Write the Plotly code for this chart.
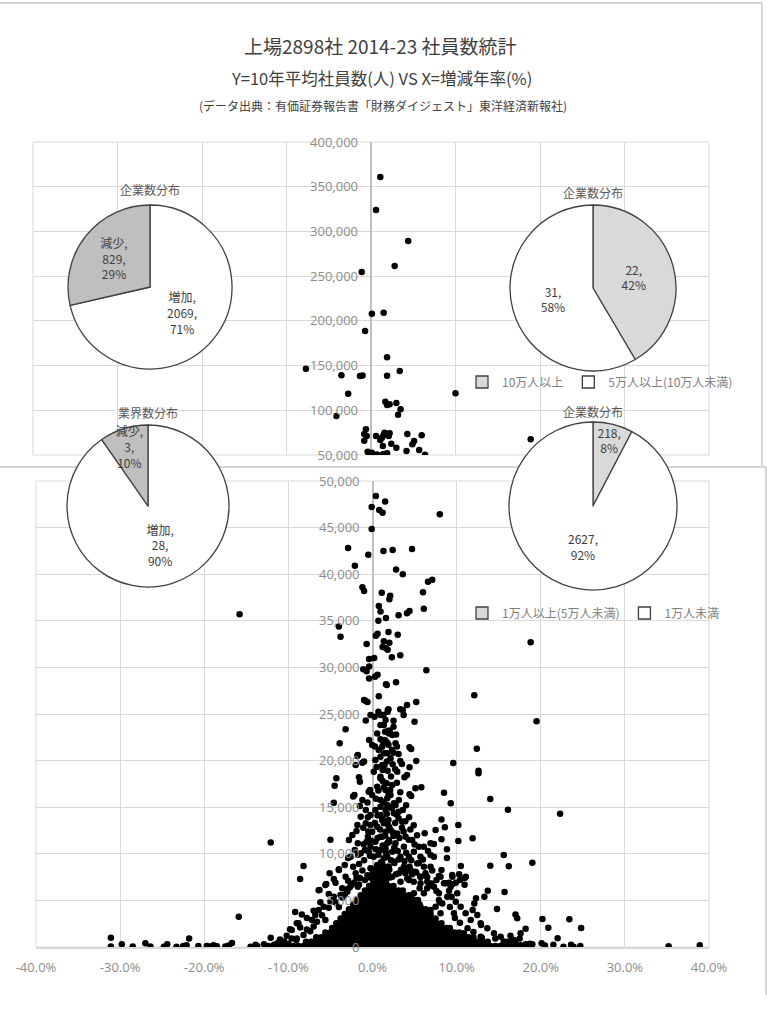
import plotly.graph_objects as go

W, H = 767, 1024

# ---------------- data ----------------
x_tick_vals = [-40, -30, -20, -10, 0, 10, 20, 30, 40]
x_tick_text = ["-40.0%", "-30.0%", "-20.0%", "-10.0%", "0.0%", "10.0%", "20.0%", "30.0%", "40.0%"]

# companies with 50,000+ employees (x = growth %/yr, y = 10y avg employees)
upper_pts = [
    (1.1, 361000), (0.6, 324000), (4.4, 289400), (2.8, 261400), (-1.1, 254700), (0.1, 208000),
    (1.5, 209200), (-0.7, 188700), (1.9, 159300), (3.4, 144000), (1.9, 138700), (-3.5, 139100),
    (-1.3, 138400), (-1.0, 139000), (-7.7, 146500), (-2.7, 118600), (10.0, 119000), (1.7, 109600),
    (1.9, 106000), (2.2, 106700), (3.0, 108200), (3.5, 101100),
    (-4.1, 93600), (3.2, 95100), (-0.6, 78700), (-0.8, 73500), (-0.5, 71200), (-0.8, 66000),
    (0.6, 71200), (1.5, 72400), (1.3, 69400), (1.1, 66800), (1.6, 74900), (2.2, 74300), (2.1, 71200),
    (2.4, 62600), (3.0, 58200), (1.4, 60100), (4.3, 73500), (5.1, 65700), (4.9, 62000), (6.0, 72000),
    (5.7, 55600), (6.4, 50300), (4.2, 54500), (-0.4, 53700), (-0.2, 51900), (0.1, 52600), (0.7, 50500),
    (1.6, 51000), (1.9, 51900), (18.9, 67500), (1.4, 50800),
]

# companies below 50,000 employees: individually readable points
lower_pts = [
    # 25,000 - 50,000
    (0.4, 48400), (-0.1, 47200), (0.8, 46900), (1.2, 46600), (1.5, 47800), (-0.1, 44850), (-2.9, 42800),
    (1.3, 42500), (-0.5, 42100), (2.4, 42600), (4.7, 42700), (-2.1, 40900), (2.8, 40500), (3.6, 40000),
    (6.6, 39200), (7.1, 39400), (-1.2, 38600), (-1.0, 38200), (1.1, 38000), (2.1, 37700), (2.0, 37300),
    (6.0, 38050), (0.75, 36600), (0.95, 36000), (6.1, 36300), (3.1, 35600), (4.1, 35800), (4.4, 36050),
    (-4.0, 34400), (-3.8, 33300), (0.7, 35000), (1.6, 35300), (0.4, 33400), (0.6, 33600), (1.9, 33800),
    (3.0, 33500), (1.35, 32800), (1.2, 32200), (-0.7, 32500), (2.0, 32650), (1.6, 32050), (1.8, 31900),
    (2.3, 31100), (3.3, 31300), (-0.4, 30900), (0.2, 31000), (-1.1, 29800), (-0.7, 29600), (-0.4, 30100),
    (-0.4, 28800), (0.6, 29200), (0.3, 29000), (6.4, 29700), (1.6, 28200), (2.8, 28400), (-1.0, 26500),
    (-0.6, 26300), (0.75, 26900), (12.1, 27000), (5.2, 26300), (4.1, 25960), (3.3, 25500), (1.9, 25500),
    (8.0, 46430), (18.8, 32700), (-15.8, 35700), (1.7, 28100), (0.7, 25250), (1.8, 25250),
    # 10,000 - 25,000
    (1.9, 23200), (1.2, 22100), (2.9, 21500), (3.6, 25430), (3.7, 24890), (1.3, 24890), (2.5, 24280),
    (2.5, 23640), (5.0, 24170), (1.5, 23100), (1.95, 22920), (2.35, 22750), (1.55, 22130), (0.95, 22280),
    (4.4, 21420), (4.6, 21240), (2.3, 21140), (2.5, 20850), (1.4, 20780), (0.95, 20420), (5.2, 19960),
    (3.3, 19960), (3.5, 19640), (4.4, 19280), (1.2, 18990), (1.8, 18920), (2.7, 19070), (4.1, 18450),
    (3.8, 18210), (0.95, 18100), (2.9, 17630), (5.1, 17030), (5.8, 17130), (4.4, 16380), (4.6, 16200),
    (1.35, 17140), (2.1, 16850), (1.75, 15950), (2.55, 15420), (1.95, 15060), (3.6, 14700), (8.5, 16560),
    (8.6, 12840), (9.3, 15420), (8.2, 13690), (0.95, 14160), (1.9, 13630), (3.1, 13810), (4.35, 13920),
    (4.9, 13060), (7.5, 12550), (6.2, 12200), (8.2, 11560), (6.1, 10760), (7.3, 11050), (6.9, 9870),
    (8.85, 10480), (8.85, 9550), (10.5, 8690), (10.3, 7800), (11.1, 7540), (9.5, 7540), (7.9, 7620),
    (8.5, 6830), (9.1, 6900), (9.5, 6730), (8.2, 8260), (5.1, 8080), (5.7, 7540), (4.9, 7010), (6.5, 6300),
    (4.1, 8260), (7.9, 5760), (9.1, 6040), (9.4, 5400), (9.9, 4860), (7.5, 4320), (8.3, 4680),
    (0.95, 24890), (1.55, 24350), (1.35, 23820), (2.06, 23210), (1.75, 21920), (1.15, 21490), (2.74, 21850),
    (2.14, 20240), (1.43, 19530), (2.94, 18810), (2.34, 17380), (1.55, 16840), (2.14, 16310), (3.13, 15770),
    (2.74, 15230), (1.55, 14700), (0.95, 15050), (2.54, 14340), (3.53, 13440), (1.35, 13270), (2.14, 12550),
    (2.94, 12190), (3.93, 11830), (4.72, 11480), (1.15, 11830), (1.94, 11480), (2.74, 11120), (3.73, 10760),
    (1.55, 10580), (2.34, 10220), (4.92, 10220), (4.33, 9690), (3.33, 9690), (1.75, 9690), (2.54, 9150),
    (5.32, 8970), (6.11, 8620), (1.15, 8970), (1.94, 8620), (3.73, 8620), (4.52, 8260), (3.13, 7900),
    (1.55, 7720), (2.34, 7540), (4.13, 7360), (3.33, 7010), (5.71, 6830), (6.51, 7010), (6.9, 11120),
    (5.5, 10760), (5.7, 9690), (7.3, 9690), (6.9, 8620),
    (3.9, 7900), (4.4, 8600), (3.4, 8300), (2.6, 9000), (3.1, 9400), (4.0, 10100), (4.6, 9300), (5.5, 9000),
    (6.0, 9400), (6.6, 10300), (5.0, 11000), (4.3, 11500), (3.2, 11700), (2.5, 11900), (3.7, 12400),
    (4.5, 12600), (5.3, 12000), (2.0, 12800), (2.7, 13300), (3.9, 13500), (1.7, 14300), (2.3, 14900),
    (3.1, 14500), (4.0, 15200), (1.3, 15500), (0.4, 15900), (1.9, 16300), (3.3, 16600), (0.7, 16800),
    (1.2, 17800), (2.2, 18300), (0.5, 19300), (2.4, 19600), (1.7, 19900), (0.3, 21500), (1.9, 21700),
    (2.8, 22800), (3.1, 20700), (6.3, 7900), (7.1, 8200), (7.6, 7200), (6.8, 6600),
    # column just right of zero
    (-0.24, 24890), (0.24, 24710), (1.15, 24890), (1.83, 25430), (0.95, 23820), (0.56, 22920), (1.43, 22210),
    (-0.04, 21670), (0.75, 21130), (1.75, 20780), (0.35, 20060), (1.15, 19530), (0.15, 18810), (0.95, 18270),
    (1.67, 17560), (0.56, 17200), (-0.04, 16310), (0.95, 15770), (1.75, 15230), (0.35, 14700), (-0.24, 14160),
    (1.15, 13620), (0.56, 12910), (-0.04, 12370), (1.55, 12370), (0.95, 11830), (0.35, 11300), (1.75, 11120),
    (-0.24, 10760), (0.95, 10400), (0.15, 9690), (1.35, 9510), (0.56, 8790), (-0.24, 8440), (1.75, 8620),
    (0.95, 7900), (0.15, 7360),
    (0.5, 7700), (1.3, 8100), (2.0, 8300), (0.2, 8100), (1.0, 9100), (2.2, 9300), (0.7, 9900), (1.6, 10100),
    (2.6, 10700), (0.4, 10500), (1.2, 10900), (2.0, 11300), (0.6, 11700), (1.5, 12000), (2.4, 12300),
    (0.9, 12600), (1.9, 13000), (0.3, 13300), (1.2, 13800), (2.9, 14200), (0.6, 14100), (3.5, 12800),
    (3.0, 10300), (3.8, 9200), (2.8, 7800), (4.7, 7800), (5.2, 8000), (-0.6, 7700), (-1.0, 9300),
    (-0.7, 11300), (-0.9, 7200), (-1.5, 7400), (-2.0, 7900), (-0.3, 9800), (-1.2, 8200), (-0.5, 12400),
    (-2.2, 6900), (-2.7, 6400), (-3.3, 5600), (-1.6, 6700),
    (-0.2, 11400), (-0.9, 10400), (-1.7, 9900), (-2.3, 8600), (-1.9, 7400), (-2.9, 7100), (-3.6, 6300),
    (-0.8, 14700), (-1.8, 13100), (-0.6, 15500), (-3.3, 8800), (-4.6, 7300), (-5.2, 5700), (-6.2, 4800),
    (-7.0, 3900), (-7.8, 3100), (-8.6, 2100), (-10.2, 1200), (-11.0, 800),
    # right side outliers
    (19.5, 24220), (12.4, 21280), (12.6, 18920), (12.6, 18630), (9.6, 19740), (14.0, 15880), (16.1, 14730),
    (22.3, 14300), (10.2, 13090), (10.2, 11370), (11.9, 11660), (15.6, 9870), (14.0, 8720), (16.2, 8660),
    (19.0, 9040), (10.95, 7400), (10.95, 6690), (10.4, 7190), (9.9, 6900), (13.7, 6040), (15.7, 5900),
    (13.3, 5400), (14.8, 4080), (17.0, 3500), (17.2, 3080), (20.2, 3000), (20.9, 2070), (23.4, 2970),
    (24.8, 2040), (18.2, 1960), (17.6, 1470), (11.9, 3970), (12.9, 2360), (12.1, 4680), (12.3, 5230),
    (19.0, 300), (20.1, 400), (20.5, 150), (21.5, 250), (22.0, 930), (22.7, 30), (23.6, 250), (23.9, 40),
    (24.7, 100), (35.2, 80), (38.9, 180), (17.6, 200), (18.3, 100), (18.7, 350), (16.8, 250), (16.3, 500),
    # fuzzy right edge of the dense core
    (8.09, 7550), (8.69, 6830), (9.48, 7720), (9.29, 6470), (10.08, 5760), (8.89, 5400), (7.90, 5040),
    (10.48, 4330), (11.07, 3610), (9.68, 3610), (11.67, 2900), (12.46, 3430), (12.86, 2540), (13.65, 2000),
    (14.44, 1470), (15.24, 1110), (16.03, 570), (16.83, 750), (12.86, 1110), (10.87, 1470), (8.09, 3610),
    (6.9, 3970), (5.71, 4330), (6.11, 5760), (7.3, 6470), (4.92, 5760), (4.33, 7190), (5.71, 7550),
    (6.5, 7500), (7.0, 6800), (7.6, 6000), (5.6, 6300), (8.0, 4800), (9.2, 4300), (9.8, 3100), (10.4, 2600),
    (11.3, 2000), (12.0, 1600), (13.0, 1000), (14.6, 900), (15.6, 600), (17.0, 400), (18.2, 300),
    (17.5, 900), (16.4, 1200),
    # left side
    (-3.2, 23360), (-3.9, 21860), (-1.75, 20600), (-1.2, 19780), (-2.0, 19530), (-1.6, 18210), (-1.5, 17740),
    (-2.15, 16310), (-4.3, 18100), (-4.5, 17310), (-4.6, 15480), (-0.45, 16660), (-1.2, 15770), (-1.5, 15130),
    (-1.4, 13980), (-0.55, 13920), (-0.8, 13270), (-0.25, 13090), (-1.1, 12800), (-2.4, 12020), (-1.9, 12450),
    (-2.8, 11480), (-1.75, 11130), (-1.05, 11020), (-0.55, 11830), (-5.0, 11500), (-2.6, 9690), (-2.1, 10410),
    (-1.4, 10050), (-0.45, 10230), (-1.6, 8910), (-4.0, 8260), (-5.1, 7910), (-3.2, 7540), (-4.4, 6900),
    (-5.5, 6760), (-6.3, 6120), (-8.2, 8700), (-8.6, 7300), (-2.5, 6650), (-1.75, 6470), (-3.0, 5930),
    (-3.8, 5580), (-4.6, 5400), (-5.0, 4860), (-5.8, 4320), (-6.4, 3970), (-6.8, 3430), (-7.2, 2900),
    (-9.2, 3750), (-8.4, 3500), (-9.6, 1820), (-8.8, 2540), (-7.8, 1890), (-9.05, 750), (-9.8, 1900),
    (-9.0, 2550), (-6.4, 6100), (-5.6, 6650), (-4.0, 8350), (-2.9, 9550), (-2.3, 16150), (-1.8, 20500),
    (-1.0, 19900), (-0.8, 26400), (-0.8, 24300), (-0.4, 22200), (-0.3, 16850), (-12.1, 11200), (-15.9, 3250),
    (-4.4, 4800), (-5.2, 4200), (-3.6, 5300), (-6.0, 3400), (-6.6, 2700), (-7.4, 1700), (-8.2, 1300),
    (-9.0, 900), (-5.6, 2900), (-7.0, 2200), (-4.0, 4300), (-3.0, 6200),
    # far-left tail along the bottom
    (-31.1, 1000), (-31.1, 50), (-29.8, 300), (-28.5, 50), (-27.0, 400), (-26.4, 50), (-24.8, 20),
    (-24.4, 300), (-23.3, 30), (-22.5, 120), (-22.1, 200), (-21.8, 900), (-20.7, 100), (-19.7, 100),
    (-19.3, 50), (-18.9, 200), (-18.5, 80), (-17.5, 50), (-17.1, 150), (-16.7, 420), (-14.5, 20),
    (-13.9, 250), (-13.7, 100), (-12.9, 300), (-12.5, 60), (-12.1, 1000), (-11.7, 250), (-11.3, 400),
    (-10.9, 200), (-10.5, 600), (-10.0, 350), (-9.6, 900),
]

# the solid dense core near the origin, read row by row (y level -> x values)
core_row_y = [100, 550, 1050, 1550, 2050, 2550, 3050, 3550, 4050, 4550, 5050, 5550, 6050, 6550, 7000,
              7450, 7900, 8400]
core_row_x = [
    [-12.4, -11.8, -11.2, -10.6, -10.0, -9.4, -8.8, -8.2, -7.6, -7.0, -6.4, -5.8, -5.2, -4.6, -4.0, -3.4,
     -2.8, -2.2, -1.6, -1.0, -0.4, 0.2, 0.8, 1.4, 2.0, 2.6, 3.2, 3.8, 4.4, 5.0, 5.6, 6.2, 6.8, 7.4, 8.0,
     8.6, 9.2, 9.8, 10.4, 11.0, 11.6, 12.2, 12.8, 13.4, 14.0, 14.6, 15.2, 15.8, 16.4, 17.0],
    [-7.9, -7.3, -6.8, -6.2, -5.6, -5.1, -4.5, -3.9, -3.3, -2.8, -2.2, -1.6, -1.1, -0.5, 0.1, 0.6, 1.2,
     1.8, 2.3, 2.9, 3.5, 4.0, 4.6, 5.2, 5.7, 6.3, 6.9, 7.4, 8.0, 8.6, 9.1, 9.7, 10.3, 10.8, 11.4, 12.0,
     12.5, 13.1, 13.7],
    [-6.7, -6.1, -5.6, -5.0, -4.4, -3.9, -3.3, -2.7, -2.2, -1.6, -1.0, -0.5, 0.1, 0.7, 1.2, 1.8, 2.4, 2.9,
     3.5, 4.1, 4.6, 5.2, 5.8, 6.3, 6.9, 7.5, 8.0, 8.6, 9.2, 9.7, 10.3, 10.9, 11.4, 12.0],
    [-5.6, -5.0, -4.5, -3.9, -3.3, -2.8, -2.2, -1.6, -1.1, -0.5, 0.1, 0.6, 1.2, 1.8, 2.3, 2.9, 3.5, 4.0,
     4.6, 5.2, 5.7, 6.3, 6.9, 7.4, 8.0, 8.6, 9.1, 9.7, 10.3],
    [-4.8, -4.2, -3.7, -3.1, -2.5, -2.0, -1.4, -0.8, -0.3, 0.3, 0.9, 1.4, 2.0, 2.6, 3.1, 3.7, 4.3, 4.8,
     5.4, 6.0, 6.5, 7.1, 7.7, 8.2, 8.8, 9.2],
    [-4.3, -3.7, -3.2, -2.6, -2.0, -1.5, -0.9, -0.3, 0.2, 0.8, 1.4, 1.9, 2.5, 3.1, 3.6, 4.2, 4.8, 5.3,
     5.9, 6.5, 7.0, 7.6, 8.2],
    [-3.8, -3.2, -2.7, -2.1, -1.5, -1.0, -0.4, 0.2, 0.7, 1.3, 1.9, 2.4, 3.0, 3.6, 4.1, 4.7, 5.3, 5.8,
     6.4, 7.0, 7.5],
    [-3.3, -2.7, -2.2, -1.6, -1.0, -0.5, 0.1, 0.7, 1.2, 1.8, 2.4, 2.9, 3.5, 4.1, 4.6, 5.2, 5.8, 6.3, 6.9],
    [-2.8, -2.3, -1.7, -1.1, -0.6, 0.0, 0.6, 1.1, 1.7, 2.3, 2.8, 3.4, 4.0, 4.5, 5.1, 5.7, 6.3],
    [-2.3, -1.8, -1.2, -0.6, -0.1, 0.5, 1.1, 1.6, 2.2, 2.8, 3.3, 3.9, 4.5, 5.0, 5.6],
    [-1.8, -1.3, -0.7, -0.1, 0.4, 1.0, 1.6, 2.1, 2.7, 3.3, 3.8, 4.4, 5.0, 5.4],
    [-1.4, -0.8, -0.3, 0.3, 0.9, 1.4, 2.0, 2.6, 3.1, 3.7, 4.3, 4.6],
    [-0.9, -0.3, 0.2, 0.8, 1.4, 1.9, 2.5, 3.1, 3.6],
    [-0.4, 0.2, 0.7, 1.3, 1.9, 2.5],
    [0.1, 0.6, 1.1, 1.6],
    [-0.3, 0.3, 0.9, 1.5, 2.1],
    [0.0, 0.6, 1.2, 1.8],
    [0.3, 0.9, 1.5],
]

pie1_labels = ["増加", "減少"]
pie1_values = [2069, 829]
pie2_labels = ["増加", "減少"]
pie2_values = [28, 3]
pie3_labels = ["10万人以上", "5万人以上(10万人未満)"]
pie3_values = [22, 31]
pie4_labels = ["1万人以上(5万人未満)", "1万人未満"]
pie4_values = [218, 2627]

title_lines = ["上場2898社 2014-23 社員数統計",
               "Y=10年平均社員数(人) VS X=増減年率(%)",
               "(データ出典：有価証券報告書「財務ダイジェスト」東洋経済新報社)"]
pie_titles = ["企業数分布", "業界数分布", "企業数分布", "企業数分布"]

# ---------------- helpers ----------------
def px(x):
    return x / W

def py(y):
    return 1 - y / H

upper_x = [p[0] for p in upper_pts]
upper_y = [p[1] for p in upper_pts]
lower_x = [p[0] for p in lower_pts]
lower_y = [p[1] for p in lower_pts]
for yy, row in zip(core_row_y, core_row_x):
    for xx in row:
        lower_x.append(xx)
        lower_y.append(yy)

GRID = "#d9d9d9"
TICK_FONT = dict(family="Open Sans, DejaVu Sans", size=13, color="#8c8c8c")
CJK = "Noto Sans CJK JP"

fig = go.Figure()

marker = dict(color="#000000", size=6.5, line=dict(width=0))
fig.add_trace(go.Scatter(x=lower_x, y=lower_y, mode="markers", marker=marker,
                         xaxis="x", yaxis="y", showlegend=False, hoverinfo="x+y"))
fig.add_trace(go.Scatter(x=upper_x, y=upper_y, mode="markers", marker=marker,
                         xaxis="x2", yaxis="y2", showlegend=False, hoverinfo="x+y"))

line_pie = dict(color="#404040", width=1.3)
txt = dict(family=CJK, size=12, color="#404040")

fig.add_trace(go.Pie(labels=pie1_labels, values=pie1_values, sort=False, direction="clockwise",
                     rotation=0, marker=dict(colors=["#ffffff", "#bfbfbf"], line=line_pie),
                     texttemplate="%{label},<br>%{value},<br>%{percent:.0%}", textposition="inside",
                     insidetextorientation="horizontal", textfont=txt, showlegend=False,
                     domain=dict(x=[px(68), px(232)], y=[py(369), py(205)])))
fig.add_trace(go.Pie(labels=pie2_labels, values=pie2_values, sort=False, direction="clockwise",
                     rotation=0, marker=dict(colors=["#ffffff", "#bfbfbf"], line=line_pie),
                     texttemplate="%{label},<br>%{value},<br>%{percent:.0%}", textposition="inside",
                     insidetextorientation="horizontal", textfont=txt, showlegend=False,
                     domain=dict(x=[px(67), px(229)], y=[py(587), py(425)])))
fig.add_trace(go.Pie(labels=pie3_labels, values=pie3_values, sort=False, direction="clockwise",
                     rotation=0, marker=dict(colors=["#d9d9d9", "#ffffff"], line=line_pie),
                     texttemplate="%{value},<br>%{percent:.0%}", textposition="inside",
                     insidetextorientation="horizontal", textfont=txt, legend="legend",
                     domain=dict(x=[px(510), px(676)], y=[py(371), py(205)])))
fig.add_trace(go.Pie(labels=pie4_labels, values=pie4_values, sort=False, direction="clockwise",
                     rotation=0, marker=dict(colors=["#d9d9d9", "#ffffff"], line=line_pie),
                     texttemplate="%{value},<br>%{percent:.0%}", textposition="inside",
                     insidetextorientation="horizontal", textfont=txt, legend="legend2",
                     domain=dict(x=[px(509), px(677)], y=[py(590), py(422)])))

axis_common = dict(showgrid=True, gridcolor=GRID, gridwidth=1, tickfont=TICK_FONT, ticks="")

legend_common = dict(xanchor="left", yanchor="middle", orientation="h",
                     font=dict(family=CJK, size=12, color="#808080"), bgcolor="rgba(0,0,0,0)",
                     itemwidth=30, traceorder="normal")

fig.update_layout(
    width=W, height=H, autosize=False,
    margin=dict(l=0, r=0, t=0, b=0, autoexpand=False),
    paper_bgcolor="white", plot_bgcolor="rgba(0,0,0,0)",
    font=dict(family=CJK, color="#404040"),
    uniformtext=dict(minsize=12, mode="show"),
    xaxis=dict(domain=[px(36), px(709)], range=[-40, 40], anchor="y",
               tickvals=x_tick_vals, ticktext=x_tick_text, ticklabelstandoff=8,
               zeroline=True, zerolinecolor="#bfbfbf", zerolinewidth=1.5,
               showline=True, linecolor=GRID, linewidth=1.5, **axis_common),
    yaxis=dict(domain=[py(947), py(481)], range=[0, 50000], dtick=5000, tickformat=",d",
               anchor="free", position=px(372.5), ticklabelstandoff=13,
               zeroline=False, showline=False, **axis_common),
    xaxis2=dict(domain=[px(33), px(709)], range=[-40, 40], anchor="y2",
                tickvals=x_tick_vals, showticklabels=False,
                zeroline=True, zerolinecolor="#bfbfbf", zerolinewidth=1.5, **axis_common),
    yaxis2=dict(domain=[py(455), py(142)], range=[50000, 400000], dtick=50000, tickformat=",d",
                anchor="free", position=px(371), ticklabelstandoff=13,
                zeroline=False, showline=False, **axis_common),
    legend=dict(x=px(462), y=py(382), **legend_common),
    legend2=dict(x=px(462), y=py(613), **legend_common),
)

frame = dict(color="#d6d6d6", width=2)
shapes = [
    # upper chart frame (top + right edges)
    dict(type="line", xref="paper", yref="paper", x0=0, x1=px(762), y0=py(3), y1=py(3), line=frame, layer="below"),
    dict(type="line", xref="paper", yref="paper", x0=px(762), x1=px(762), y0=py(3), y1=py(467), line=frame, layer="below"),
    # lower chart frame (top + right edges)
    dict(type="line", xref="paper", yref="paper", x0=0, x1=px(766), y0=py(467), y1=py(467), line=frame, layer="below"),
    dict(type="line", xref="paper", yref="paper", x0=px(766), x1=px(766), y0=py(467), y1=py(995), line=frame, layer="below"),
    dict(type="rect", xref="x domain", yref="y domain", x0=0, x1=1, y0=0, y1=1,
         line=dict(color=GRID, width=1), layer="below"),
    dict(type="rect", xref="x2 domain", yref="y2 domain", x0=0, x1=1, y0=0, y1=1,
         line=dict(color=GRID, width=1), layer="below"),
]
fig.update_layout(shapes=shapes)

ann = [
    dict(text=title_lines[0], x=px(380), y=py(45), font=dict(family=CJK, size=19, color="#404040")),
    dict(text=title_lines[1], x=px(381), y=py(78), font=dict(family=CJK, size=16.5, color="#404040")),
    dict(text=title_lines[2], x=px(383), y=py(105), font=dict(family=CJK, size=12, color="#404040")),
    dict(text=pie_titles[0], x=px(150), y=py(189), font=dict(family=CJK, size=12, color="#595959")),
    dict(text=pie_titles[1], x=px(148), y=py(412), font=dict(family=CJK, size=12, color="#595959")),
    dict(text=pie_titles[2], x=px(593), y=py(192), font=dict(family=CJK, size=12, color="#595959")),
    dict(text=pie_titles[3], x=px(593), y=py(411), font=dict(family=CJK, size=12, color="#595959")),
]
for a in ann:
    a.update(xref="paper", yref="paper", showarrow=False, xanchor="center", yanchor="middle")
fig.update_layout(annotations=ann)

fig.write_html("out.html")
